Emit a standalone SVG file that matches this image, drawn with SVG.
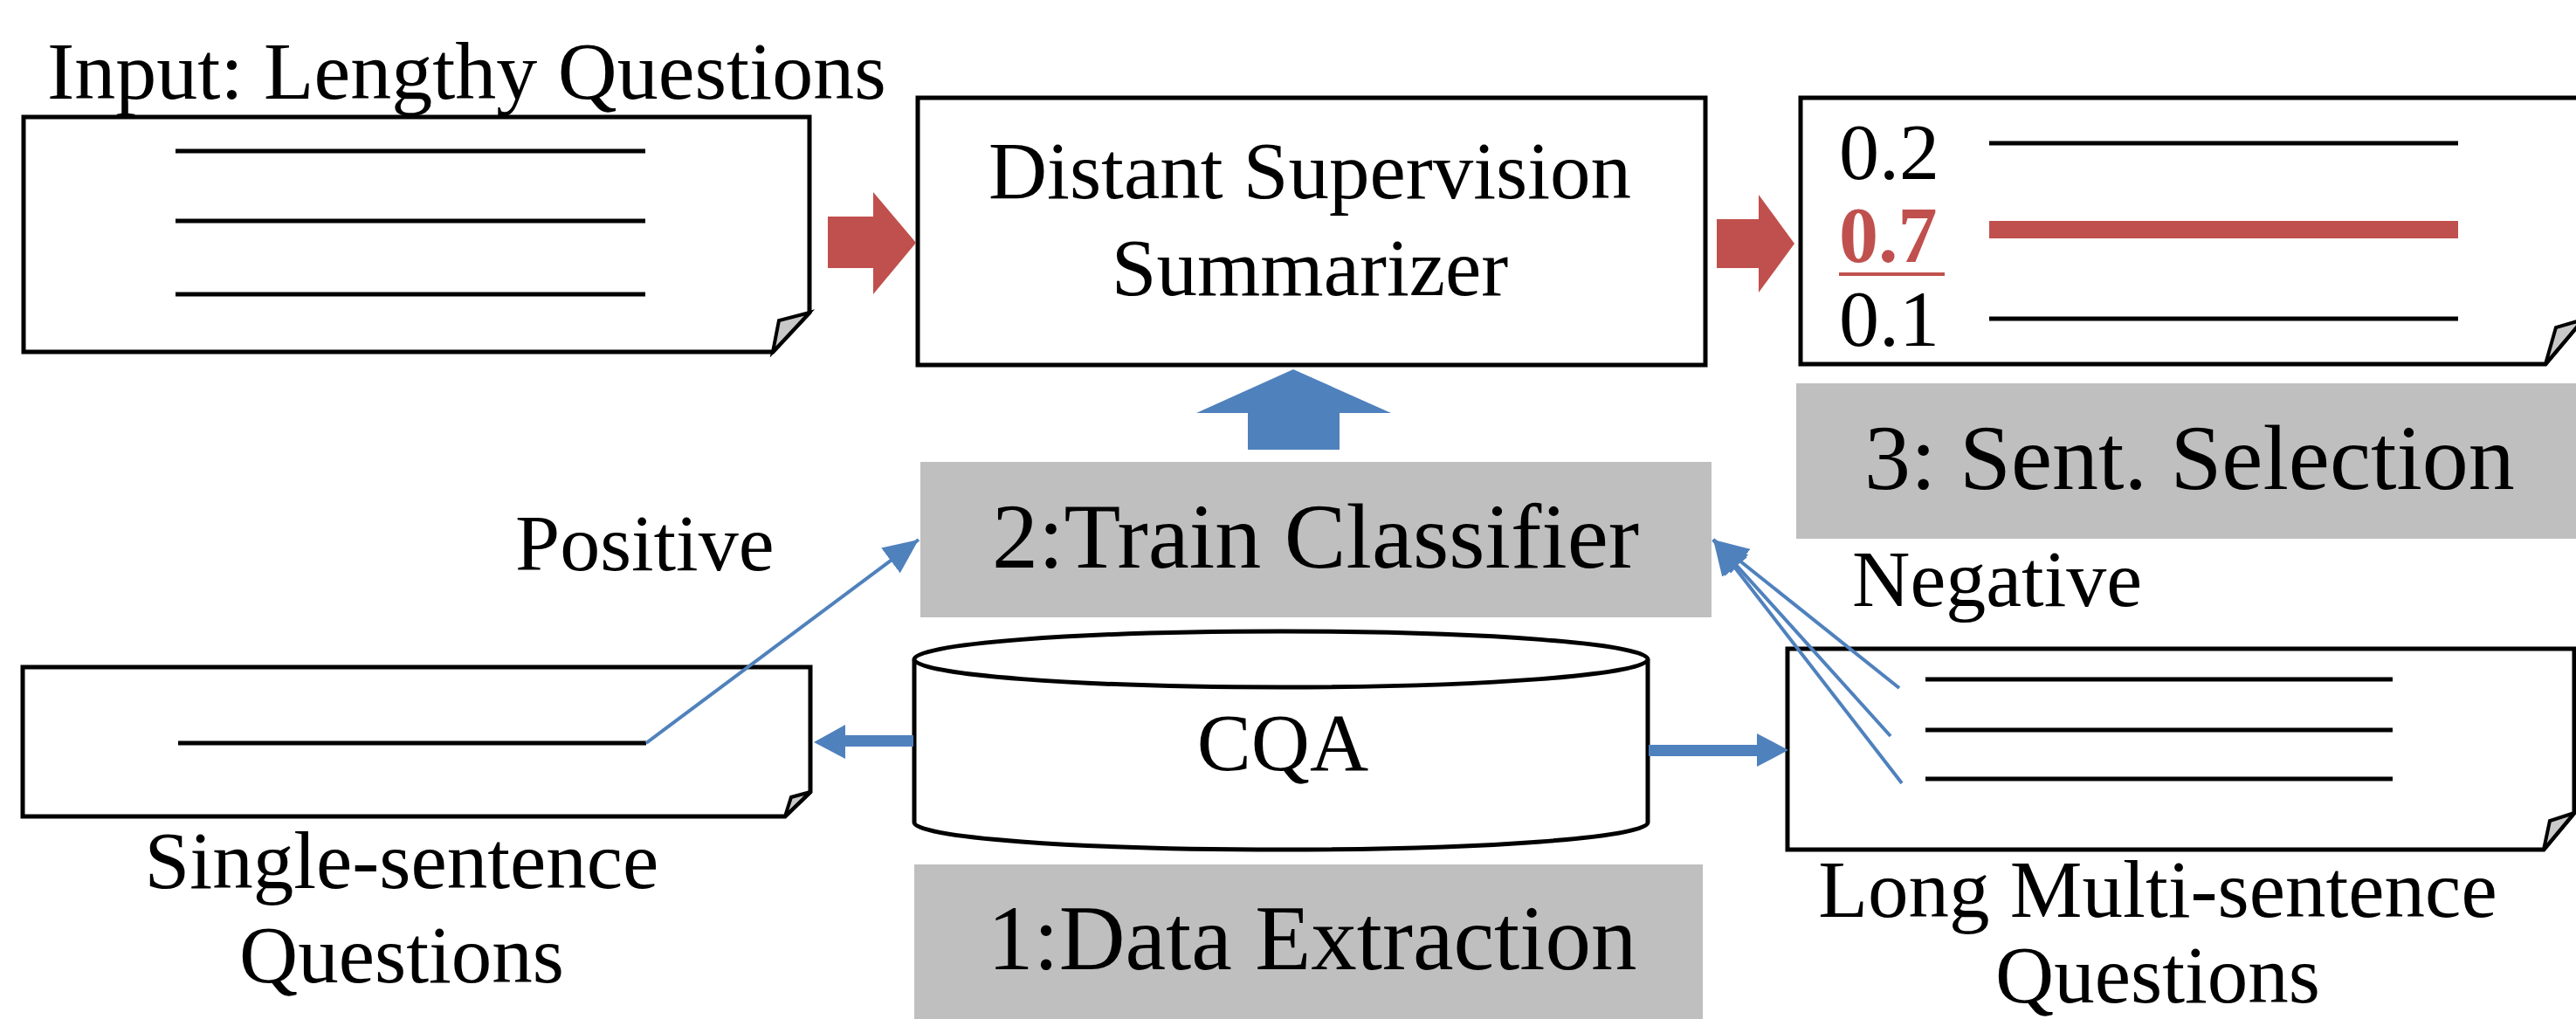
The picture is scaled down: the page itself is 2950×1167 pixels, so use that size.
<svg xmlns="http://www.w3.org/2000/svg" width="2950" height="1167" viewBox="0 0 2950 1167">
<style>
text{font-family:"Liberation Serif","Times New Roman",serif;fill:#000}
.doc{fill:#fff;stroke:#000;stroke-width:5;stroke-linejoin:miter}
.flap{fill:#c8c8c8;stroke:#000;stroke-width:4;stroke-linejoin:miter}
.ln{stroke:#000;stroke-width:5}
.gray{fill:#bfbfbf}
.blue{fill:#4f81bd}
.red{fill:#c0504d}
.thin{stroke:#4f81bd;stroke-width:4;fill:none}
</style>
<defs>
<marker id="ah" markerUnits="userSpaceOnUse" markerWidth="40" markerHeight="36" refX="40" refY="18" orient="auto">
<path d="M0,0 L40,18 L0,36 Z" fill="#4f81bd"/>
</marker>
</defs>
<rect width="2950" height="1167" fill="#fff"/>

<g id="input-doc">
<text x="54" y="113" font-size="94">Input: Lengthy Questions</text>
<path class="doc" d="M27,134 H927 V358 L885,403 H27 Z"/>
<polygon class="flap" points="927,358 892,367 885,403"/>
<line class="ln" x1="201" y1="173" x2="739" y2="173"/>
<line class="ln" x1="201" y1="253" x2="739" y2="253"/>
<line class="ln" x1="201" y1="337" x2="739" y2="337"/>
</g>

<g id="summarizer">
<rect x="1051" y="112" width="902" height="306" fill="#fff" stroke="#000" stroke-width="5"/>
<text x="1500" y="227" font-size="93" text-anchor="middle">Distant Supervision</text>
<text x="1500" y="338" font-size="93" text-anchor="middle">Summarizer</text>
</g>

<g id="output-doc">
<path class="doc" d="M2062,112 H2958 V366 L2915,417 H2062 Z"/>
<polygon class="flap" points="2958,366 2927,375 2915,417"/>
<text x="2106" y="205" font-size="92">0.2</text>
<text x="2106" y="300" font-size="90" font-weight="bold" style="fill:#c0504d">0.7</text>
<rect x="2106" y="312" width="121" height="4" class="red"/>
<text x="2106" y="396" font-size="92">0.1</text>
<line class="ln" x1="2278" y1="164" x2="2815" y2="164"/>
<line x1="2278" y1="263" x2="2815" y2="263" stroke="#c0504d" stroke-width="20"/>
<line class="ln" x1="2278" y1="365" x2="2815" y2="365"/>
</g>

<g id="step3">
<rect class="gray" x="2057" y="439" width="903" height="178"/>
<text x="2135" y="560" font-size="106">3: Sent. Selection</text>
</g>

<g id="step2">
<rect class="gray" x="1054" y="529" width="906" height="178"/>
<text x="1136" y="650" font-size="106">2:Train Classifier</text>
</g>

<g id="positive-label">
<text x="590" y="653" font-size="92">Positive</text>
</g>

<g id="negative-label">
<text x="2121" y="694" font-size="92">Negative</text>
</g>

<g id="single-doc">
<path class="doc" d="M26,764 H928 V907 L899,935 H26 Z"/>
<polygon class="flap" points="928,907 906,913 899,935"/>
<line class="ln" x1="204" y1="851" x2="740" y2="851"/>
<text x="460" y="1017" font-size="93" text-anchor="middle">Single-sentence</text>
<text x="460" y="1125" font-size="93" text-anchor="middle">Questions</text>
</g>

<g id="cqa">
<path d="M1047,755 V942 A420,31 0 0 0 1887,942 V755" fill="#fff" stroke="#000" stroke-width="5"/>
<ellipse cx="1467" cy="755" rx="420" ry="32" fill="#fff" stroke="#000" stroke-width="5"/>
<text x="1469" y="882" font-size="93" text-anchor="middle">CQA</text>
</g>

<g id="long-doc">
<path class="doc" d="M2047,743 H2948 V931 L2913,973 H2047 Z"/>
<polygon class="flap" points="2948,931 2920,940 2913,973"/>
<line class="ln" x1="2205" y1="778" x2="2740" y2="778"/>
<line class="ln" x1="2205" y1="836" x2="2740" y2="836"/>
<line class="ln" x1="2205" y1="892" x2="2740" y2="892"/>
<text x="2471" y="1050" font-size="93" text-anchor="middle">Long Multi-sentence</text>
<text x="2471" y="1148" font-size="93" text-anchor="middle">Questions</text>
</g>

<g id="step1">
<rect class="gray" x="1047" y="990" width="903" height="180"/>
<text x="1131" y="1110" font-size="105">1:Data Extraction</text>
</g>

<g id="connectors">
<polygon class="red" points="948,248 1000,248 1000,220 1049,278 1000,337 1000,307 948,307"/>
<polygon class="red" points="1966,251 2014,251 2014,223 2055,279 2014,335 2014,307 1966,307"/>
<polygon class="blue" points="1429,515 1429,473 1370,473 1481,423 1593,473 1534,473 1534,515"/>
<polygon class="blue" points="1046,842 968,842 968,830 932,850 968,869 968,855 1046,855"/>
<polygon class="blue" points="1888,853 2012,853 2012,840 2048,859 2012,878 2012,866 1888,866"/>
<line class="thin" x1="740" y1="851" x2="1052" y2="618" marker-end="url(#ah)"/>
<line class="thin" x1="2175" y1="788" x2="1962" y2="618" marker-end="url(#ah)"/>
<line class="thin" x1="2165" y1="843" x2="1962" y2="618" marker-end="url(#ah)"/>
<line class="thin" x1="2178" y1="897" x2="1962" y2="618" marker-end="url(#ah)"/>
</g>
</svg>
